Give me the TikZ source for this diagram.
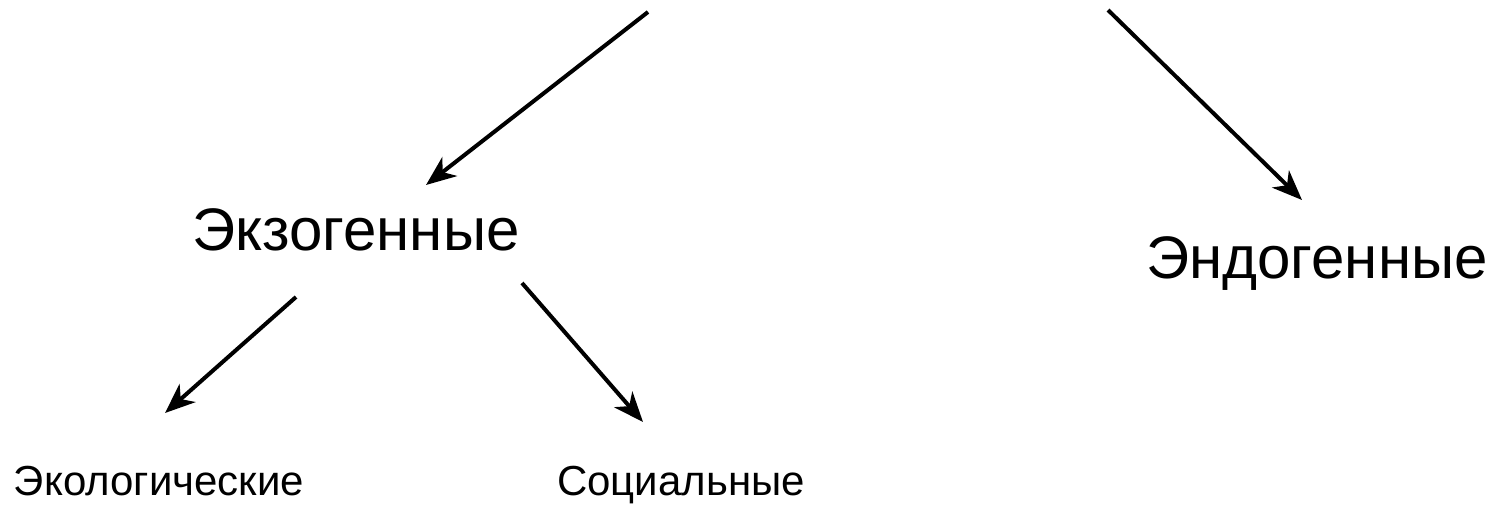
\documentclass[tikz,border=0pt]{standalone}
\usepackage{fontspec}
\setmainfont{Liberation Sans}
\usetikzlibrary{arrows.meta}
\begin{document}
\begin{tikzpicture}[x=1pt,y=-1pt,
  big/.style={inner sep=0pt,anchor=base,font=\fontsize{60}{64}\selectfont},
  small/.style={inner sep=0pt,anchor=base,font=\fontsize{42}{46}\selectfont},
  arr/.style={line width=4pt,-{Stealth[length=30pt,width=24pt,inset=9pt]}}]
\useasboundingbox (0,0) rectangle (1499,504);
\node[big] (exo) at (356,250) {Экзогенные};
\node[big] (endo) at (1317,278) {Эндогенные};
\node[small] (eco) at (159,495) {Экологические};
\node[small] (soc) at (681,495) {Социальные};
\coordinate (s1) at (648,12);
\coordinate (e1) at (426,185);
\coordinate (s2) at (1108,10);
\coordinate (e2) at (1302,200);
\coordinate (s3) at (296,297);
\coordinate (e3) at (165,413);
\coordinate (s4) at (522,283);
\coordinate (e4) at (643,422);
\draw[arr] (s1) -- (e1);
\draw[arr] (s2) -- (e2);
\draw[arr] (s3) -- (e3);
\draw[arr] (s4) -- (e4);
\end{tikzpicture}
\end{document}
